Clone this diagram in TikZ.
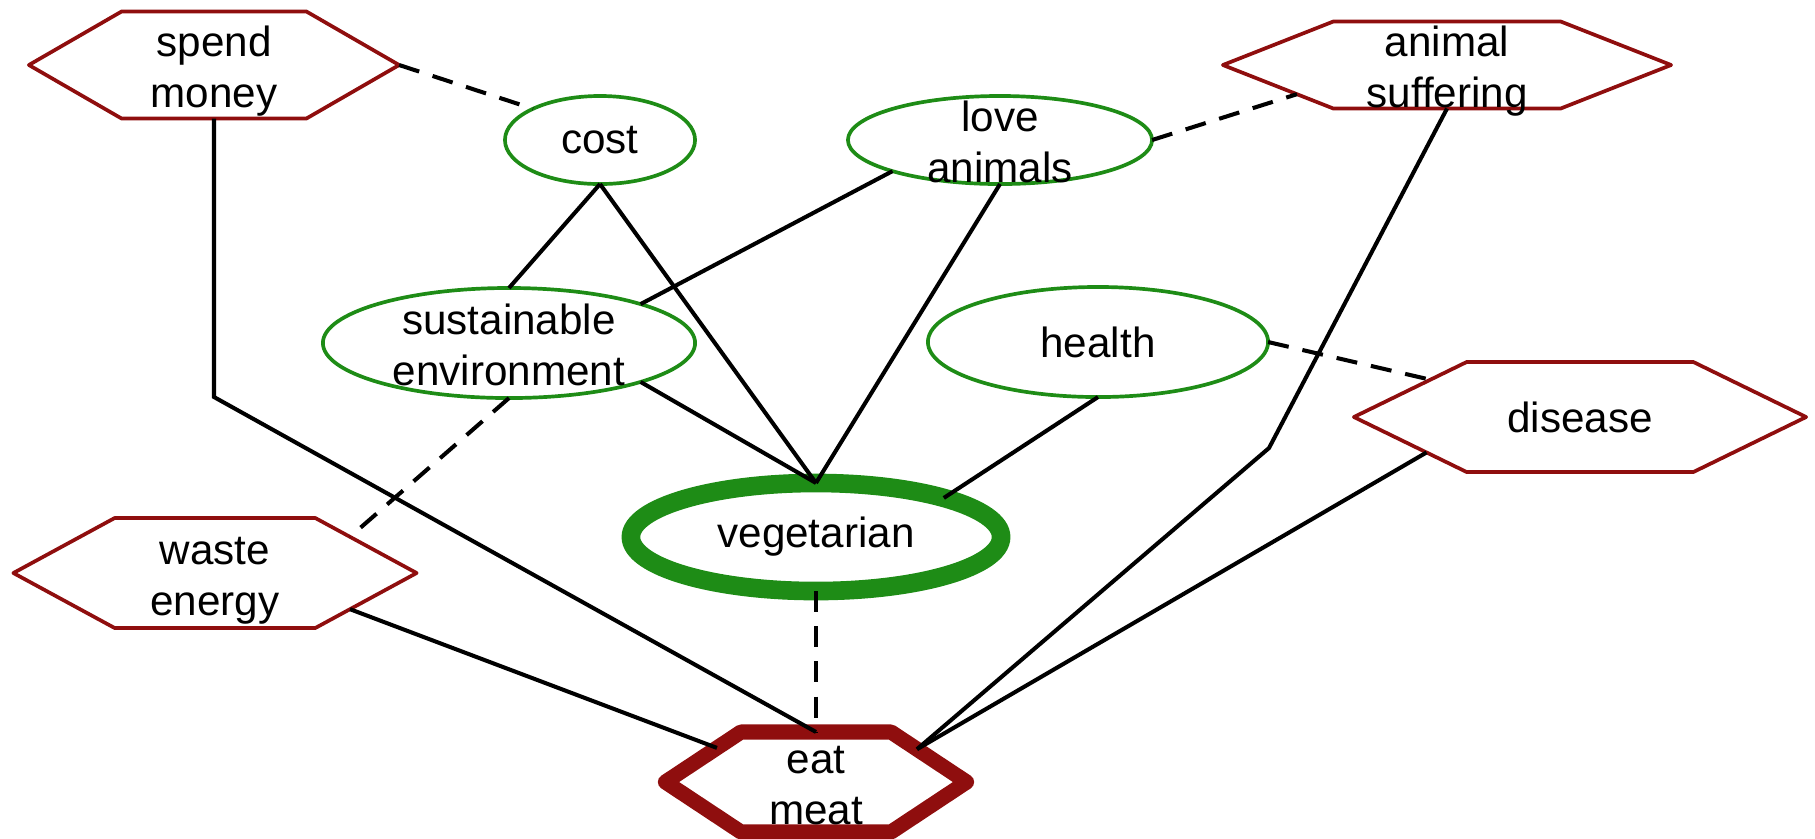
\documentclass[tikz,border=0pt]{standalone}
\usepackage{fontspec}
\setmainfont{Liberation Sans}
\usepackage{tikz}
\usetikzlibrary{shapes.geometric, shapes.symbols}

\definecolor{goodgreen}{RGB}{30,140,22}
\definecolor{badred}{RGB}{143,14,14}

\newcommand{\twolines}[2]{\smash{\raisebox{-0.4em}{\begin{tabular}{@{}c@{}}#1\\#2\end{tabular}}}}

\begin{document}
\begin{tikzpicture}[x=0.01cm, y=-0.01cm, font=\fontsize{12}{14.5}\selectfont]

    % Define styles
    \tikzstyle{reason} = [ellipse, draw=goodgreen, line width=1.05pt, inner sep=0pt, outer sep=0pt]
    \tikzstyle{effect} = [signal, signal to=west and east, draw=badred, line width=1.05pt, line join=round, inner sep=0pt, outer sep=0pt]
    \tikzstyle{line} = [draw, line width=1.15pt]
    \tikzstyle{against} = [draw, line width=1.15pt, dash pattern=on 6pt off 4pt]

    \useasboundingbox (0,0) rectangle (1815,838);

    % Place nodes
    \node [effect, minimum width=3.70cm, minimum height=1.07cm, signal pointer angle=60] (spend) at (214,65) {\twolines{spend}{money}};
    \node [reason, minimum width=1.90cm, minimum height=0.88cm] (cost) at (600,140) {cost};
    \node [reason, minimum width=3.04cm, minimum height=0.88cm] (love) at (1000,140) {\twolines{love}{animals}};
    \node [effect, minimum width=4.48cm, minimum height=0.87cm, signal pointer angle=43] (suffer) at (1447,65) {\twolines{animal}{suffering}};
    \node [reason, minimum width=3.72cm, minimum height=1.10cm] (sustain) at (509,343) {\twolines{sustainable}{environment}};
    \node [reason, minimum width=3.40cm, minimum height=1.10cm] (health) at (1098,342) {health};
    \node [effect, minimum width=4.52cm, minimum height=1.10cm, signal pointer angle=52] (disease) at (1580,417) {disease};
    \node [effect, minimum width=4.03cm, minimum height=1.10cm, signal pointer angle=57] (waste) at (215,573) {\twolines{waste}{energy}};
    \node [reason, line width=5.3pt, minimum width=3.70cm, minimum height=1.08cm] (veg) at (816,537) {vegetarian};
    \node [effect, line width=4.3pt, minimum width=3.01cm, minimum height=1.00cm, signal pointer angle=67] (eat) at (816,782) {\twolines{eat}{meat}};

    % Bends
    \coordinate (spendbend) at (214,397);
    \coordinate (sufferbend) at (1269,448);

    % Draw edges
    \path [line] (spend.south) -- (spendbend) -- (eat.north);
    \path [against] (spend.east) -- (cost.155);
    \path [line] (cost.south) -- (sustain.north);
    \path [line] (cost.south) -- (veg.north);
    \path [line] (love.south west) -- (sustain.north east);
    \path [line] (love.south) -- (veg.north);
    \path [against] (love.east) -- (suffer.191);
    \path [line] (suffer.south) -- (sufferbend) -- (eat.18);
    \path [line] (sustain.south east) -- (veg.north);
    \path [against] (sustain.south) -- (waste.15);
    \path [line] (health.south) -- (veg.17);
    \path [against] (health.east) -- (disease.166);
    \path [line] (disease.193) -- (eat.18);
    \path [against] (veg.south) -- (eat.north);
    \path [line] (waste.-15) -- (eat.161);

\end{tikzpicture}
\end{document}
